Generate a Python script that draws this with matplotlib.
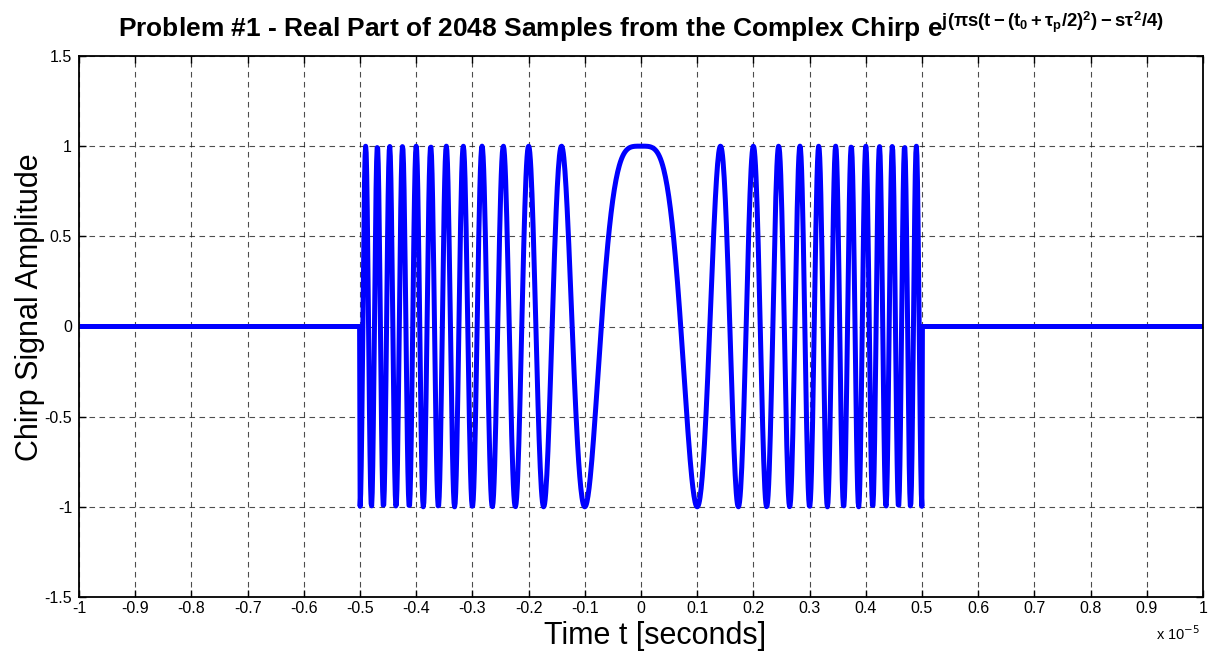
import numpy as np
import matplotlib
matplotlib.use("Agg")
import matplotlib.pyplot as plt

# ---- chirp parameters ----
n_samples = 2048
t_start = -1e-5          # seconds
t_stop = 1e-5
t0 = -0.5e-5             # pulse start
tau_p = 1e-5             # pulse width
s_rate = 1e12            # chirp rate (Hz/s)

x_ticks = [-1e-5, -0.9e-5, -0.8e-5, -0.7e-5, -0.6e-5, -0.5e-5, -0.4e-5, -0.3e-5, -0.2e-5, -0.1e-5,
           0.0, 0.1e-5, 0.2e-5, 0.3e-5, 0.4e-5, 0.5e-5, 0.6e-5, 0.7e-5, 0.8e-5, 0.9e-5, 1e-5]
x_tick_labels = ["-1", "-0.9", "-0.8", "-0.7", "-0.6", "-0.5", "-0.4", "-0.3", "-0.2", "-0.1",
                 "0", "0.1", "0.2", "0.3", "0.4", "0.5", "0.6", "0.7", "0.8", "0.9", "1"]
y_ticks = [-1.5, -1.0, -0.5, 0.0, 0.5, 1.0, 1.5]
y_tick_labels = ["-1.5", "-1", "-0.5", "0", "0.5", "1", "1.5"]

t = np.linspace(t_start, t_stop, n_samples)
center = t0 + tau_p / 2
inside = (t >= t0) & (t <= t0 + tau_p)
signal = np.where(inside, np.cos(np.pi * s_rate * (t - center) ** 2), 0.0)

plt.rcParams['font.family'] = ['Liberation Sans', 'DejaVu Sans']
plt.rcParams['mathtext.fontset'] = 'custom'
plt.rcParams['mathtext.rm'] = 'Liberation Sans:bold'
plt.rcParams['mathtext.it'] = 'Liberation Sans:bold'
plt.rcParams['mathtext.bf'] = 'Liberation Sans:bold'
plt.rcParams['mathtext.sf'] = 'Liberation Sans:bold'

fig = plt.figure(figsize=(12.11, 6.54), dpi=100)
ax = fig.add_axes([79/1211, 1-597/654, (1203-79)/1211, (597-56)/654])

ax.plot(t, signal, color='#0000ff', lw=3.6, solid_joinstyle='round')

ax.set_xlim(t_start, t_stop)
ax.set_ylim(-1.5, 1.5)
ax.set_xticks(x_ticks)
ax.set_xticklabels(x_tick_labels)
ax.set_yticks(y_ticks)
ax.set_yticklabels(y_tick_labels)
ax.tick_params(direction='in', length=5, width=1, top=True, right=True,
               labelsize=11.5, colors='black')
ax.tick_params(axis='x', pad=3)
ax.tick_params(axis='y', pad=5)
ax.grid(True, color='#111111', linestyle=(0, (5, 4)), linewidth=0.8, alpha=0.75)
for sp in ax.spines.values():
    sp.set_linewidth(1.3)

ax.set_xlabel('Time t [seconds]', fontsize=22, va='center')
ax.xaxis.set_label_coords(0.5125, -0.072)
ax.set_ylabel('Chirp Signal Amplitude', fontsize=22, va='center')
ax.yaxis.set_label_coords(-0.0436, 0.536)

title = (r'Problem #1 - Real Part of 2048 Samples from the Complex Chirp e'
         r'$^{j(\pi s(t-(t_0+\tau_p/2)^2)-s\tau^2/4)}$')
ax.set_title(title, fontsize=19, fontweight='bold', pad=14)

fig.text(1200/1211, 1-640/654, r'x 10$^{-5}$', fontsize=10.5, ha='right', va='baseline',
         math_fontfamily='dejavusans')

fig.savefig('out.png', dpi=100)
